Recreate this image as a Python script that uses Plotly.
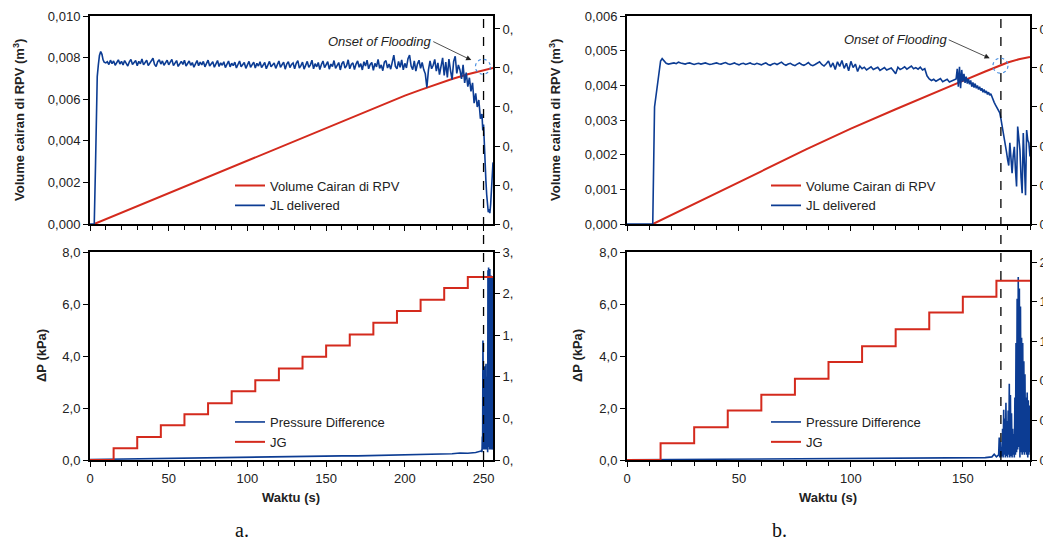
import plotly.graph_objects as go

# ------------------------------------------------------------------ data (a)
vol_a_t = [2.7, 20, 40, 60, 80, 100, 120, 140, 160, 180, 200, 210, 220, 230, 240, 245, 250, 256]
vol_a = [0, 0.00054, 0.00117, 0.00180, 0.00243, 0.00306, 0.00368, 0.00431, 0.00494, 0.00557,
         0.00617, 0.00645, 0.00672, 0.00697, 0.00720, 0.00730, 0.00740, 0.00750]

jl_a_head_t = [0, 2.7, 3.5, 4.2, 4.6, 5.3, 6.0, 6.8, 7.6, 8.3, 9, 10]
jl_a_head = [0, 0, .015, .032, .0378, .0408, .0432, .0442, .0435, .0421, .0415, .0413]
jl_a_mid = [  # t = 11 ... 234, 1 s apart
    .0416, .0409, .0420, .0411, .0418, .0407, .0415, .0421, .0410, .0417, .0408, .0419, .0412, .0405, .0416, .0422, .0409, .0414, .0419, .0406,
    .0417, .0411, .0423, .0408, .0415, .0420, .0406, .0413, .0419, .0425, .0409, .0404, .0416, .0421, .0410, .0418, .0407, .0413, .0420, .0408,
    .0415, .0422, .0406, .0412, .0419, .0404, .0411, .0417, .0409, .0420, .0405, .0413, .0418, .0407, .0414, .0402, .0411, .0419, .0406, .0415,
    .0408, .0417, .0403, .0412, .0420, .0405, .0411, .0416, .0402, .0410, .0419, .0404, .0413, .0407, .0416, .0401, .0410, .0418, .0403, .0412,
    .0406, .0415, .0400, .0411, .0418, .0403, .0409, .0414, .0399, .0410, .0417, .0402, .0408, .0415, .0400, .0412, .0405, .0416, .0401, .0409,
    .0414, .0398, .0410, .0417, .0403, .0408, .0413, .0399, .0411, .0418, .0402, .0407, .0415, .0397, .0410, .0416, .0401, .0409, .0413, .0398,
    .0412, .0419, .0400, .0406, .0415, .0397, .0410, .0417, .0402, .0408, .0420, .0398, .0411, .0403, .0414, .0396, .0409, .0418, .0401, .0407,
    .0416, .0397, .0410, .0404, .0419, .0399, .0408, .0414, .0395, .0411, .0417, .0400, .0406, .0421, .0398, .0409, .0413, .0396, .0410, .0418,
    .0402, .0411, .0395, .0416, .0405, .0420, .0398, .0409, .0414, .0394, .0412, .0403, .0422, .0399, .0408, .0393, .0415, .0419, .0400, .0410,
    .0397, .0416, .0433, .0404, .0398, .0417, .0402, .0421, .0395, .0412, .0400, .0424, .0433, .0405, .0396, .0418, .0392, .0410, .0420, .0399,
    .0414, .0396, .0385, .0350, .0395, .0418, .0398, .0407, .0422, .0392, .0413, .0383, .0409, .0426, .0381, .0415, .0376, .0423, .0394, .0370,
    .0417, .0430, .0386, .0408,
]
jl_a_tail_t = [235, 236, 237, 238, 239, 240, 241, 242, 243, 244, 245, 246, 247, 248, 249, 249.5, 250, 250.5,
               251, 251.5, 252, 252.5, 253, 253.5, 254, 254.5, 255, 255.5, 256]
jl_a_tail = [.0395, .0372, .0408, .0362, .0388, .0352, .0375, .0340, .0362, .0310, .0335, .0300, .0318, .0270,
             .0282, .0240, .0255, .0195, .0150, .0110, .0075, .0045, .0030, .0038, .0028, .0050, .0080, .0120, .0158]

jg_a_t = [0, 15, 30, 45, 60, 75, 90, 105, 120, 135, 150, 165, 180, 195, 210, 225, 240, 256]
jg_a = [0, .17, .33, .50, .66, .82, .99, 1.15, 1.32, 1.49, 1.65, 1.81, 1.98, 2.15, 2.31, 2.48, 2.64, 2.64]

dp_a_t = [0, 10, 20, 30, 40, 50, 60, 70, 80, 90, 100, 110, 120, 130, 140, 150, 160, 170, 180, 190,
          200, 210, 220, 230, 235, 240, 245, 248,
          248.6, 248.8, 249.0, 249.2, 249.4, 249.6, 249.8, 250.0, 250.2, 250.4, 250.6, 250.8, 251.0,
          251.2, 251.4, 251.6, 251.8, 252.0, 252.2, 252.4, 252.6, 252.8, 253.0, 253.2, 253.4, 253.6,
          253.8, 254.0, 254.2, 254.4, 254.6, 254.8, 255.0, 255.2, 255.4, 255.6, 255.8, 256.0]
dp_a = [.02, .03, .04, .05, .05, .06, .07, .08, .09, .10, .10, .11, .13, .13, .14, .15, .16, .16, .17, .18,
        .19, .20, .22, .24, .27, .26, .29, .33,
        .35, .40, .30, .90, .40, 4.6, .5, 4.2, .4, 3.0, .6, 3.6, .4,
        3.4, .5, 3.7, .4, 3.2, .3, .5, .3, 7.3, .5, 7.4, .6, 7.2,
        .4, 7.35, .5, 7.0, .4, 7.1, .5, 7.05, .4, 6.9, .5, 7.0]

# ------------------------------------------------------------------ data (b)
vol_b_t = [11.6, 20, 40, 60, 80, 100, 120, 140, 150, 160, 167, 170, 175, 180]
vol_b = [0, 0.00026, 0.00089, 0.00152, 0.00215, 0.00275, 0.00331, 0.00387, 0.00413, 0.00440,
         0.00459, 0.00466, 0.00475, 0.00482]

jl_b_head_t = [0, 11.5, 12.3, 13.3, 14, 15, 15.7, 16.5, 17.5, 18.5, 19.5]
jl_b_head = [0, 0, .030, .035, .0378, .0418, .0424, .0419, .0412, .0410, .0411]
jl_b_mid = [  # t = 20 ... 146, 1 s apart
    .0412, .0413, .0411, .0415, .0413, .0412, .0410, .0412, .0413, .0411, .0409, .0411, .0412, .0410, .0411, .0413, .0411, .0409, .0410, .0412,
    .0413, .0411, .0410, .0412, .0414, .0411, .0409, .0411, .0413, .0410, .0408, .0411, .0412, .0409, .0411, .0413, .0410, .0409, .0412, .0410,
    .0408, .0411, .0413, .0409, .0407, .0410, .0412, .0409, .0413, .0415, .0410, .0407, .0410, .0412, .0408, .0406, .0410, .0413, .0409, .0407,
    .0410, .0414, .0408, .0406, .0409, .0412, .0416, .0409, .0405, .0411, .0418, .0402, .0413, .0396, .0416, .0404, .0419, .0399, .0412, .0393,
    .0417, .0401, .0410, .0391, .0405, .0398, .0402, .0395, .0400, .0403, .0396, .0399, .0402, .0394, .0398, .0401, .0395, .0397, .0400, .0393,
    .0385, .0402, .0396, .0399, .0403, .0397, .0400, .0405, .0398, .0401, .0397, .0402, .0395, .0398, .0380, .0372, .0368, .0371, .0366, .0369,
    .0373, .0365, .0368, .0371, .0364, .0367, .0370,
]
jl_b_tail = [  # t = 147 ... 180, 0.5 s apart
    .0372, .0398, .0352, .0403, .0348, .0395, .0365, .0385, .0362, .0378, .0360, .0372, .0358, .0368, .0352, .0363,
    .0350, .0360, .0348, .0355, .0345, .0352, .0342, .0348, .0338, .0345, .0336, .0341, .0332, .0338, .0330, .0334,
    .0325, .0318, .0312, .0306, .0300, .0296,
    .0290, .0285, .0270, .0255, .0240, .0222, .0205, .0185, .0165, .0150,
    .0208, .0160, .0130, .0175, .0198, .0140, .0096, .0250, .0215, .0190,
    .0120, .0079, .0233, .0150, .0074, .0241, .0215, .0208, .0173,
]

jg_b_t = [0, 15, 30, 45, 60, 75, 90, 105, 120, 135, 150, 165, 180]
jg_b = [0, .17, .33, .50, .66, .82, .99, 1.15, 1.32, 1.49, 1.65, 1.81, 1.81]

dp_b_head_t = [0, 20, 40, 60, 80, 100, 120, 140, 150, 160, 163, 164, 165, 165.5]
dp_b_head = [.01, .02, .03, .03, .04, .05, .06, .07, .08, .09, .12, .22, .12, .15]
dp_b_spike = [  # t = 166 ... 180, 0.25 s apart
    .2, .86, .1, .7, .1, .5, .15, 1.2, .1, 1.93, .2, 1.6, .1, 2.2, .15, 1.5, .1, 1.9, .2, 2.93,
    .1, 2.5, .15, 1.8, .1, 1.2, .2, 1.0, .1, 2.4, .2, 4.5, .3, 6.2, .4, 7.04, .5, 6.6, .1, 5.9,
    .3, 4.7, .2, 4.5, .3, 3.8, .2, 3.3, .3, 2.4, .2, 2.6, .1, 2.3, .2, 2.1, .3,
]

flood_a, flood_b = 250, 167
vol_ticks = [0, 0.002, 0.004, 0.006, 0.008, 0.010]
vol_b_ticks = [0, 0.001, 0.002, 0.003, 0.004, 0.005, 0.006]
dp_ticks = [0, 2, 4, 6, 8]
jl_ticks = [0, .01, .02, .03, .04, .05]
jl_a_labels = ["0,", "0,", "0,", "0,", "0,", "0,"]
jl_b_labels = ["0", "0", "0", "0", "0", "0"]
jg_a_ticks = [0, .6, 1.2, 1.8, 2.4, 3.0]
jg_a_labels = ["0,", "0,", "1,", "1,", "2,", "3,"]
jg_b_ticks = [0, .4, .8, 1.2, 1.6, 2.0]
jg_b_labels = ["0", "0", "0", "1.", "1.", "2"]

# ------------------------------------------------------------------ assemble series
jl_a_t = jl_a_head_t + list(range(11, 11 + len(jl_a_mid))) + jl_a_tail_t
jl_a = jl_a_head + jl_a_mid + jl_a_tail
jl_b_t = jl_b_head_t + list(range(20, 20 + len(jl_b_mid))) + [147 + 0.5 * i for i in range(len(jl_b_tail))]
jl_b = jl_b_head + jl_b_mid + jl_b_tail
dp_b_t = dp_b_head_t + [166 + 0.25 * i for i in range(len(dp_b_spike))]
dp_b = dp_b_head + dp_b_spike

RED = "#D42A1D"
BLUE = "#0C3C93"
TXT = "#222222"
FONT = "Liberation Sans"
W, H = 1051, 543
OFF = 8  # page body margin of the html page


def fx(p):
    return (p - OFF) / W


def fy(p):
    return 1 - (p - OFF) / H


fig = go.Figure()
# top a
fig.add_trace(go.Scatter(x=vol_a_t, y=vol_a, mode="lines", name="Volume Cairan di RPV",
                         line=dict(color=RED, width=2), xaxis="x", yaxis="y", legend="legend"))
fig.add_trace(go.Scatter(x=jl_a_t, y=jl_a, mode="lines", name="JL delivered",
                         line=dict(color=BLUE, width=1.6), xaxis="x", yaxis="y2", legend="legend"))
# bottom a
fig.add_trace(go.Scatter(x=dp_a_t, y=dp_a, mode="lines", name="Pressure Difference",
                         line=dict(color=BLUE, width=1.6), xaxis="x2", yaxis="y3", legend="legend2"))
fig.add_trace(go.Scatter(x=jg_a_t, y=jg_a, mode="lines", name="JG", line_shape="hv",
                         line=dict(color=RED, width=2), xaxis="x2", yaxis="y4", legend="legend2"))
# top b
fig.add_trace(go.Scatter(x=vol_b_t, y=vol_b, mode="lines", name="Volume Cairan di RPV",
                         line=dict(color=RED, width=2), xaxis="x3", yaxis="y5", legend="legend3"))
fig.add_trace(go.Scatter(x=jl_b_t, y=jl_b, mode="lines", name="JL delivered",
                         line=dict(color=BLUE, width=1.6), xaxis="x3", yaxis="y6", legend="legend3"))
# bottom b
fig.add_trace(go.Scatter(x=dp_b_t, y=dp_b, mode="lines", name="Pressure Difference",
                         line=dict(color=BLUE, width=1.6), xaxis="x4", yaxis="y7", legend="legend4"))
fig.add_trace(go.Scatter(x=jg_b_t, y=jg_b, mode="lines", name="JG", line_shape="hv",
                         line=dict(color=RED, width=2), xaxis="x4", yaxis="y8", legend="legend4"))

dom_a = [fx(90), fx(493)]
dom_b = [fx(627), fx(1030)]
dom_top = [fy(224), fy(16)]
dom_bot = [fy(460), fy(252)]
tickfont = dict(family=FONT, size=13, color=TXT)


def xax(domain, anchor, rng, labels):
    return dict(domain=domain, anchor=anchor, range=rng, showline=True, linewidth=2, linecolor="black",
                mirror=True, ticks="outside", ticklen=5, tickwidth=1.3, tickcolor="black",
                tick0=0, dtick=50, showgrid=False, zeroline=False, showticklabels=labels,
                tickfont=tickfont, automargin=False,
                minor=dict(dtick=10, ticks="outside", ticklen=4, tickwidth=1.3, tickcolor="black",
                           showgrid=False))


def yleft(domain, anchor, rng, tickvals, fmt):
    return dict(domain=domain, anchor=anchor, range=rng, showline=True, linewidth=2, linecolor="black",
                mirror=True, ticks="outside", ticklen=5, tickwidth=1.3, tickcolor="black",
                tickvals=tickvals, tickformat=fmt, showgrid=False, zeroline=False, tickfont=tickfont,
                automargin=False)


def yright(over, anchor, rng, tickvals, ticktext):
    return dict(overlaying=over, anchor=anchor, side="right", range=rng, showline=True, linewidth=2,
                linecolor="black", ticks="outside", ticklen=5, tickwidth=1.3, tickcolor="black",
                tickvals=tickvals, ticktext=ticktext, showgrid=False, zeroline=False, tickfont=tickfont,
                automargin=False)


leg = dict(font=dict(family=FONT, size=13, color=TXT), bgcolor="rgba(0,0,0,0)", borderwidth=0,
           xanchor="left", yanchor="top", itemwidth=30, tracegroupgap=0)

fig.update_layout(
    width=W, height=H, autosize=False,
    margin=dict(l=0, r=0, t=0, b=0, pad=0, autoexpand=False),
    paper_bgcolor="white", plot_bgcolor="white", separators=",.",
    font=dict(family=FONT, size=13, color=TXT),
    xaxis=xax(dom_a, "y", [0, 256], False),
    yaxis=yleft(dom_top, "x", [0, 0.010], vol_ticks, ".3f"),
    yaxis2=yright("y", "x", [0, 0.05333], jl_ticks, jl_a_labels),
    xaxis2=xax(dom_a, "y3", [0, 256], True),
    yaxis3=yleft(dom_bot, "x2", [0, 8], dp_ticks, ".1f"),
    yaxis4=yright("y3", "x2", [0, 3.0], jg_a_ticks, jg_a_labels),
    xaxis3=xax(dom_b, "y5", [0, 180], False),
    yaxis5=yleft(dom_top, "x3", [0, 0.006], vol_b_ticks, ".3f"),
    yaxis6=yright("y5", "x3", [0, 0.05333], jl_ticks, jl_b_labels),
    xaxis4=xax(dom_b, "y7", [0, 180], True),
    yaxis7=yleft(dom_bot, "x4", [0, 8], dp_ticks, ".1f"),
    yaxis8=yright("y7", "x4", [0, 2.1015], jg_b_ticks, jg_b_labels),
    legend=dict(leg, x=fx(230), y=fy(170.5)),
    legend2=dict(leg, x=fx(230), y=fy(407)),
    legend3=dict(leg, x=fx(766), y=fy(170.5)),
    legend4=dict(leg, x=fx(766), y=fy(407)),
    showlegend=True,
)

# dashed "onset of flooding" lines spanning both panels
for xr, tf in (("x", flood_a), ("x3", flood_b)):
    fig.add_shape(type="line", xref=xr, yref="paper", x0=tf, x1=tf, y0=fy(460), y1=fy(16),
                  line=dict(color="black", width=1.3, dash="dash"))

# dashed circles at onset points
for xr, yr, cx, cy in (("x", "y", 249.6, 0.00756), ("x3", "y5", 166.8, 0.004566)):
    fig.add_shape(type="circle", xref=xr, yref=yr, xsizemode="pixel", ysizemode="pixel",
                  xanchor=cx, yanchor=cy, x0=-7.5, x1=7.5, y0=-7.5, y1=7.5,
                  line=dict(color="#4A8FE0", width=1.2, dash="dot"))

ann = []
# onset labels with arrows (arrow tail sits on the right edge of the text box)
ann.append(dict(x=242.2, y=0.00788, xref="x", yref="y", text="<i>Onset of Flooding</i>",
                showarrow=True, ax=-38, ay=-18.5, xanchor="right", yanchor="middle",
                arrowhead=2, arrowsize=1.3, arrowwidth=0.8, arrowcolor="#222",
                font=dict(family=FONT, size=13, color=TXT)))
ann.append(dict(x=162.0, y=0.00478, xref="x3", yref="y5", text="<i>Onset of Flooding</i>",
                showarrow=True, ax=-41, ay=-18.5, xanchor="right", yanchor="middle",
                arrowhead=2, arrowsize=1.3, arrowwidth=0.8, arrowcolor="#222",
                font=dict(family=FONT, size=13, color=TXT)))

# axis titles
ttl = dict(family=FONT, size=13, color=TXT)
for xp in (19, 555):
    ann.append(dict(x=fx(xp), y=fy(120), xref="paper", yref="paper",
                    text="<b>Volume cairan di RPV (m<sup>3</sup>)</b>", textangle=-90,
                    showarrow=False, font=ttl, xanchor="center", yanchor="middle"))
for xp in (41, 577):
    ann.append(dict(x=fx(xp), y=fy(356), xref="paper", yref="paper", text="<b>ΔP (kPa)</b>", textangle=-90,
                    showarrow=False, font=ttl, xanchor="center", yanchor="middle"))
for xp in (291, 828):
    ann.append(dict(x=fx(xp), y=fy(497), xref="paper", yref="paper", text="<b>Waktu (s)</b>",
                    showarrow=False, font=ttl, xanchor="center", yanchor="middle"))
for xp, txt in ((242, "a."), (779, "b.")):
    ann.append(dict(x=fx(xp), y=fy(530), xref="paper", yref="paper", text=txt, showarrow=False,
                    font=dict(family="Liberation Serif", size=20, color="#111"), xanchor="center",
                    yanchor="middle"))
fig.update_layout(annotations=ann)

fig.write_html("out.html")
